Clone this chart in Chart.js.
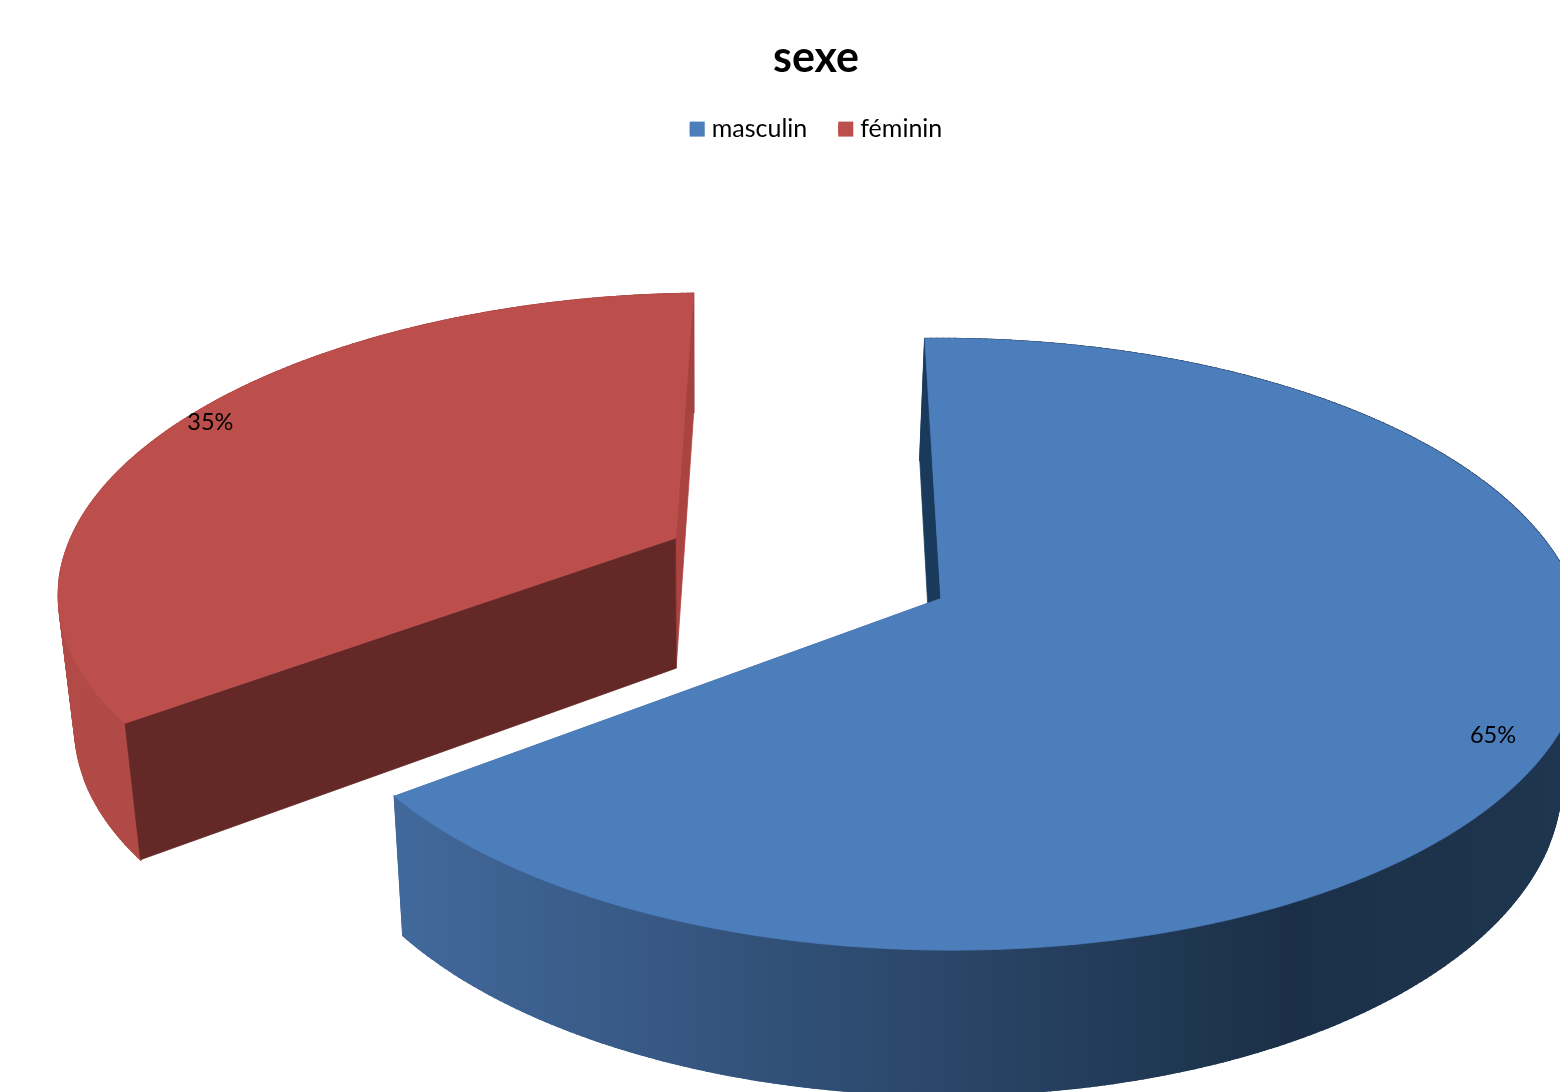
<!DOCTYPE html>
<html>
<head>
<meta charset="utf-8">
<title>sexe</title>
<script src="https://cdn.jsdelivr.net/npm/chart.js@4"></script>
<style>
  html, body { margin: 0; padding: 0; background: #fff; width: 1560px; height: 1092px; overflow: hidden; }
  #sexeChart { display: block; }
</style>
</head>
<body>
<canvas id="sexeChart" width="1632" height="1092"></canvas>
<script>
const categories = ["masculin", "féminin"];
const shares = [65, 35];
const shareLabels = ["65%", "35%"];

const faceColors = ["#4D7EBC", "#BC4F4C"];
const startWallColors = ["#1A3A5C", "#642927"];
const endWallColors = ["#3F6897", "#AB4341"];
const outerWallStops = [
  [[0, "#42699C"], [0.75, "#1B3048"], [1, "#1F3650"]],
  [[0, "#B24B48"], [1, "#A34240"]],
];

// tilted camera, in units of the pie radius
const view = { dx: -0.03, a: 1.851, b: 0.04, c: -0.0403, d: 0.863, k: -0.1474, m: 0.0258, vx: -0.346, vy: 15.6 };
const labelRadii = [0.915, 0.95];
const labelTurn = 0.033;
const legendBox = 15;

function projector(arc) {
  const R = arc.outerRadius;
  return (X, Y, z) => {
    const w = 1 + view.k * Y;
    const x = view.dx + (view.a * X + view.b * Y) / w;
    const y = (view.c * X + view.d * Y) / w;
    const W = w + view.m * z;
    return {
      x: arc.x + R * (x * w + view.vx * view.m * z) / W,
      y: arc.y + R * (y * w + view.vy * view.m * z) / W,
    };
  };
}

// the exploded apex of a slice, world units
function apexOf(arc) {
  const mid = (arc.startAngle + arc.endAngle) / 2;
  const shift = (arc.options.offset || 0) / 2 / arc.outerRadius;
  return { X: Math.cos(mid) * shift, Y: Math.sin(mid) * shift, mid };
}

function rimPoints(arc, z) {
  const project = projector(arc);
  const apex = apexOf(arc);
  const pts = [];
  const steps = Math.ceil((arc.endAngle - arc.startAngle) * 90);
  for (let i = 0; i <= steps; i++) {
    const t = arc.startAngle + (arc.endAngle - arc.startAngle) * i / steps;
    pts.push(project(apex.X + Math.cos(t), apex.Y + Math.sin(t), z));
  }
  return pts;
}

function fillPoly(ctx, pts, fill, seam = 0.75) {
  ctx.beginPath();
  pts.forEach((p, i) => (i ? ctx.lineTo(p.x, p.y) : ctx.moveTo(p.x, p.y)));
  ctx.closePath();
  ctx.fillStyle = fill;
  ctx.strokeStyle = fill;
  ctx.lineWidth = seam;
  ctx.fill();
  ctx.stroke();
}

function drawSlice(ctx, arc, i) {
  const project = projector(arc);
  const apex = apexOf(arc);
  const top = rimPoints(arc, 0);
  const bottom = rimPoints(arc, 1);
  const apexTop = project(apex.X, apex.Y, 0);
  const apexBottom = project(apex.X, apex.Y, 1);
  const last = top.length - 1;

  // walls go down first, the top face covers what is hidden
  fillPoly(ctx, [apexTop, top[last], bottom[last], apexBottom], endWallColors[i]);

  const xs = top.concat(bottom).map((p) => p.x);
  const grad = ctx.createLinearGradient(Math.min(...xs), 0, Math.max(...xs), 0);
  outerWallStops[i].forEach((s) => grad.addColorStop(s[0], s[1]));
  // solid band underneath, then one quad per step so the curved wall keeps its silhouette
  fillPoly(ctx, top.concat(bottom.slice().reverse()), grad);
  for (let s = 0; s < last; s++) {
    fillPoly(ctx, [top[s], top[s + 1], bottom[s + 1], bottom[s]], grad, 1.5);
  }

  fillPoly(ctx, [apexTop, top[0], bottom[0], apexBottom], startWallColors[i]);
  fillPoly(ctx, [apexTop].concat(top), faceColors[i]);
}

const pie3d = {
  id: "pie3d",
  beforeDatasetsDraw(chart) {
    const ctx = chart.ctx;
    const arcs = chart.getDatasetMeta(0).data;
    ctx.save();
    // féminin sits behind masculin
    for (let i = arcs.length - 1; i >= 0; i--) {
      drawSlice(ctx, arcs[i], i);
    }
    ctx.font = "23.5px Lato";
    ctx.fillStyle = "#000";
    ctx.textAlign = "center";
    ctx.textBaseline = "middle";
    arcs.forEach((arc, i) => {
      const apex = apexOf(arc);
      const t = apex.mid + labelTurn;
      const r = labelRadii[i];
      const p = projector(arc)(apex.X + Math.cos(t) * r, apex.Y + Math.sin(t) * r, 0);
      ctx.fillText(shareLabels[i], p.x, p.y);
    });
    ctx.restore();
    return false;
  },
  // legend squares sit closer to their text than the default layout allows
  afterDraw(chart) {
    const legend = chart.legend;
    const ctx = chart.ctx;
    legend.legendItems.forEach((item, i) => {
      const hit = legend.legendHitBoxes[i];
      ctx.fillStyle = item.fillStyle;
      ctx.fillRect(hit.left, hit.top + (hit.height - legendBox) / 2, legendBox, legendBox);
    });
  },
};

new Chart(document.getElementById("sexeChart"), {
  type: "pie",
  data: {
    labels: categories,
    datasets: [
      {
        data: shares,
        backgroundColor: faceColors,
        borderWidth: 0,
        offset: 161,
        radius: 335,
      },
    ],
  },
  options: {
    responsive: false,
    animation: false,
    rotation: 1.4,
    layout: { padding: { left: 0, right: 0, top: 0, bottom: 108 } },
    plugins: {
      title: {
        display: true,
        text: "sexe",
        color: "#000",
        font: { family: "Lato", size: 43, weight: "bold" },
        padding: { top: 32, bottom: 2 },
      },
      legend: {
        display: true,
        position: "top",
        labels: {
          color: "#000",
          font: { family: "Lato", size: 25 },
          boxWidth: 9.5,
          boxHeight: 9.5,
          padding: 31,
        },
      },
      tooltip: { enabled: false },
    },
  },
  plugins: [pie3d],
});
</script>
</body>
</html>
